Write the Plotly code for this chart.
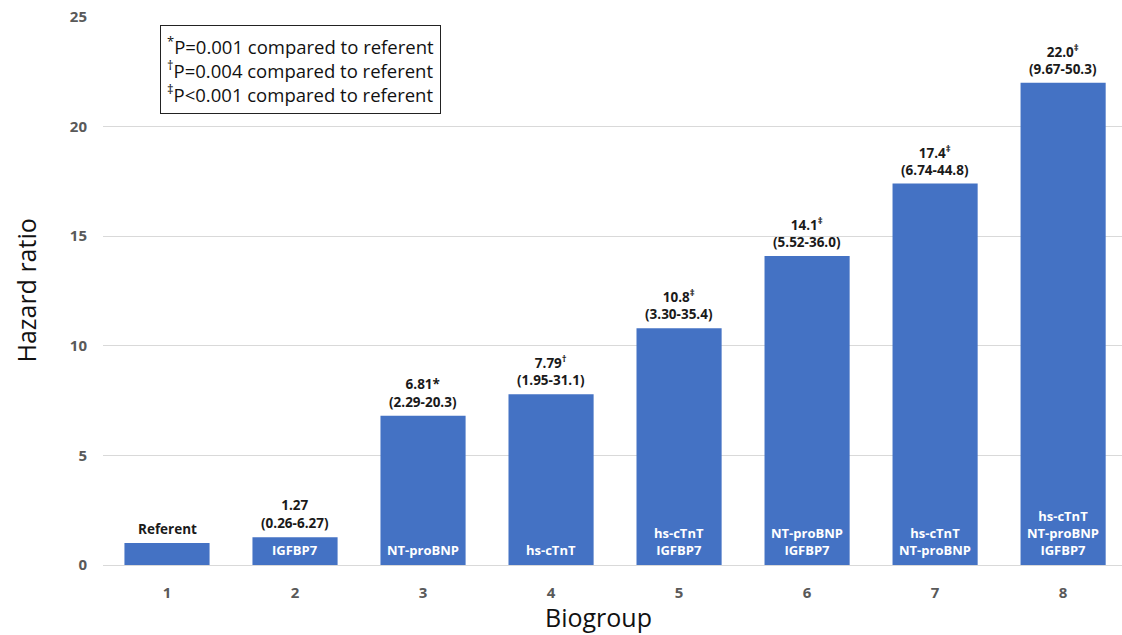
import plotly.graph_objects as go

# Hazard ratios by biogroup
groups = [1, 2, 3, 4, 5, 6, 7, 8]
hazard_ratio = [1.0, 1.27, 6.81, 7.79, 10.8, 14.1, 17.4, 22.0]
value_labels = ["Referent", "1.27", "6.81*", "7.79<sup>†</sup>", "10.8<sup>‡</sup>",
                "14.1<sup>‡</sup>", "17.4<sup>‡</sup>", "22.0<sup>‡</sup>"]
ci_labels = ["", "(0.26-6.27)", "(2.29-20.3)", "(1.95-31.1)", "(3.30-35.4)",
             "(5.52-36.0)", "(6.74-44.8)", "(9.67-50.3)"]
marker_labels = ["", "IGFBP7", "NT-proBNP", "hs-cTnT", "hs-cTnT<br>IGFBP7",
                 "NT-proBNP<br>IGFBP7", "hs-cTnT<br>NT-proBNP",
                 "hs-cTnT<br>NT-proBNP<br>IGFBP7"]
y_ticks = [0, 5, 10, 15, 20, 25]
footnotes = ["<sup>*</sup>P=0.001 compared to referent",
             "<sup>†</sup>P=0.004 compared to referent",
             "<sup>‡</sup>P<0.001 compared to referent"]

BLUE = "#4472C4"
FONT = "Open Sans"

fig = go.Figure()
fig.add_trace(go.Bar(
    x=groups, y=hazard_ratio, width=0.665,
    marker=dict(color=BLUE, line=dict(width=0)),
    hoverinfo="x+y",
))

annotations = []
for g, v, lab, ci, inner in zip(groups, hazard_ratio, value_labels, ci_labels, marker_labels):
    text = lab if not ci else f"{lab}<br>{ci}"
    annotations.append(dict(
        x=g, y=v, xref="x", yref="y", text=f"<b>{text}</b>",
        showarrow=False, yanchor="bottom", yshift=3,
        font=dict(family=FONT, size=13.5, color="#1a1a1a"),
    ))
    if inner:
        annotations.append(dict(
            x=g, y=0, xref="x", yref="y", text=f"<b>{inner}</b>",
            showarrow=False, yanchor="bottom", yshift=4,
            font=dict(family=FONT, size=13, color="white"),
        ))

# footnote box
annotations.append(dict(
    x=0.056, y=0.985, xref="paper", yref="paper",
    xanchor="left", yanchor="top", align="left",
    text="<br>".join(footnotes), showarrow=False,
    font=dict(family=FONT, size=18.5, color="#111111"),
    bordercolor="#222222", borderwidth=1, borderpad=6, bgcolor="white",
))

# axis titles
annotations.append(dict(
    x=-0.076, y=0.5, xref="paper", yref="paper", text="Hazard ratio",
    xanchor="center", yanchor="middle",
    showarrow=False, textangle=-90, font=dict(family=FONT, size=25, color="#111111"),
))
annotations.append(dict(
    x=0.486, y=-0.095, xref="paper", yref="paper", text="Biogroup",
    xanchor="center", yanchor="middle",
    showarrow=False, font=dict(family=FONT, size=25, color="#111111"),
))

fig.update_layout(
    width=1122, height=635,
    margin=dict(l=103, r=0, t=17, b=70),
    plot_bgcolor="white", paper_bgcolor="white",
    showlegend=False,
    annotations=annotations,
    xaxis=dict(
        range=[0.5, 8.46], tickmode="array", tickvals=groups,
        ticktext=[f"<b>{g}</b>" for g in groups],
        tickfont=dict(family=FONT, size=15, color="#595959"),
        showgrid=False, zeroline=False, showline=False,
        ticks="outside", ticklen=14, tickcolor="rgba(0,0,0,0)",
    ),
    yaxis=dict(
        range=[0, 25], tickmode="array", tickvals=y_ticks,
        ticktext=[f"<b>{t}</b>" for t in y_ticks],
        tickfont=dict(family=FONT, size=15, color="#595959"),
        showgrid=True, gridcolor="#d9d9d9", gridwidth=1,
        zeroline=True, zerolinecolor="#d9d9d9", zerolinewidth=1,
        ticks="outside", ticklen=12, tickcolor="rgba(0,0,0,0)",
    ),
)

fig.write_html("out.html")
